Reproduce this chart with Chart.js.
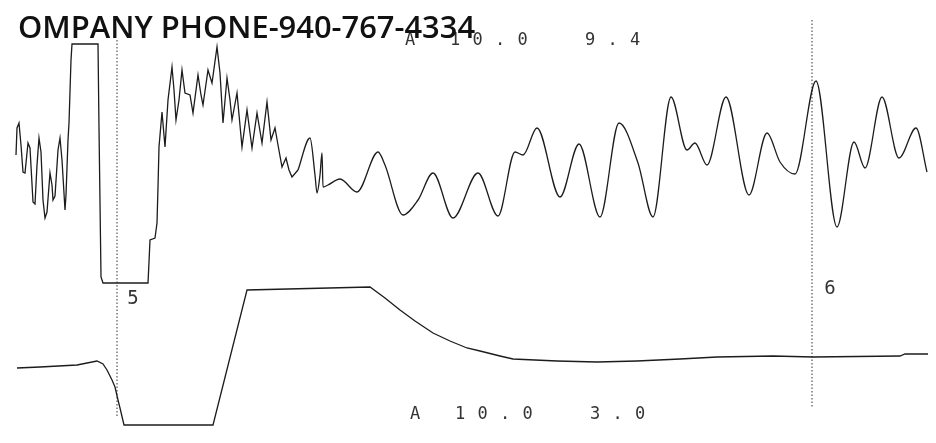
<!DOCTYPE html>
<html>
<head>
<meta charset="utf-8">
<script src="https://cdn.jsdelivr.net/npm/chart.js@4"></script>
<style>
  html, body { margin: 0; padding: 0; background: #fff; }
  canvas { display: block; }
</style>
</head>
<body>
<canvas id="trace" width="936" height="443"></canvas>
<script>
// upper channel, noisy part (time, level) - level read as row from top
var roughTimes = [16, 17, 19, 21, 23, 25, 28, 30, 33, 35, 37, 39, 41, 43, 45, 47, 50, 52, 53, 55, 58, 60, 62, 65, 66, 68, 69, 71, 72, 98, 99, 101, 103, 148, 149, 150, 155, 157, 158, 159, 162, 165, 168, 172, 174, 176, 179, 182, 185, 190, 193, 198, 201, 203, 208, 212, 217, 220, 223, 227, 230, 232, 237, 242, 247, 252, 257, 262, 267, 271, 275, 278, 282, 286, 289, 292, 298];
var roughLevels = [155, 128, 123, 145, 172, 173, 143, 148, 202, 204, 165, 138, 152, 200, 218, 212, 173, 185, 200, 196, 150, 138, 160, 210, 195, 140, 123, 60, 44, 44, 128, 277, 283, 283, 262, 240, 238, 223, 187, 147, 112, 147, 100, 67, 90, 120, 100, 70, 93, 95, 113, 75, 95, 105, 70, 83, 47, 73, 123, 78, 100, 120, 93, 147, 110, 148, 113, 143, 102, 140, 128, 145, 167, 158, 170, 177, 170];

// upper channel, smooth part
var waveTimes = [298, 310, 315, 317, 320, 322, 323, 328, 340, 357, 378, 385, 403, 418, 433, 453, 478, 498, 515, 523, 537, 560, 579, 600, 619, 638, 653, 671, 687, 695, 707, 726, 749, 767, 780, 795, 816, 837, 854, 865, 882, 899, 916, 927];
var waveLevels = [170, 138, 175, 193, 175, 153, 187, 185, 179, 192, 152, 165, 215, 200, 173, 218, 173, 216, 152, 155, 128, 197, 144, 217, 123, 163, 217, 97, 150, 143, 165, 97, 195, 133, 162, 174, 81, 227, 142, 168, 97, 158, 128, 172];

// lower channel
var lowTimes = [17, 40, 77, 97, 103, 107, 112, 115, 118, 120, 124, 213, 247, 370, 385, 400, 415, 433, 450, 467, 480, 500, 513, 557, 597, 637, 680, 717, 773, 813, 900, 905, 928];
var lowLevels = [368, 367, 365, 361, 364, 370, 380, 387, 400, 408, 425, 425, 290, 287, 298, 310, 321, 333, 341, 348, 351, 356, 359, 361, 362, 361, 359, 357, 356, 357, 356, 354, 354];

// event markers
var markerTimes = [117, 812];
var markerTops = [40, 20];
var markerBottoms = [418, 408];
var markerNames = ['5', '6'];

var headerText = 'OMPANY PHONE-940-767-4334';
var topReadout = 'A 10.0  9.4';
var lowReadout = 'A 10.0  3.0';

function pairs(xs, ys) {
    return xs.map((x, i) => ({ x: x, y: ys[i] }));
}

var ink = '#1c1c1c';

var datasets = [
    { data: pairs(roughTimes, roughLevels), borderColor: ink, borderWidth: 1.3, tension: 0 },
    { data: pairs(waveTimes, waveLevels), borderColor: ink, borderWidth: 1.3, cubicInterpolationMode: 'monotone' },
    { data: pairs(lowTimes, lowLevels), borderColor: ink, borderWidth: 1.3, tension: 0 },
];
markerTimes.forEach((t, i) => {
    datasets.push({
        data: [{ x: t, y: markerTops[i] }, { x: t, y: markerBottoms[i] }],
        borderColor: '#555',
        borderWidth: 1.2,
        borderDash: [1.5, 2],
    });
});

var textPlugin = {
    id: 'stripText',
    afterDatasetsDraw(chart) {
        var ctx = chart.ctx;
        var sx = chart.scales.x, sy = chart.scales.y;
        ctx.save();

        // readouts, dot-matrix style
        ctx.fillStyle = '#333';
        ctx.font = '17px "DejaVu Sans Mono"';
        ctx.textAlign = 'center';
        ctx.textBaseline = 'middle';
        function readout(str, x0, row) {
            for (var i = 0; i < str.length; i++) {
                ctx.fillText(str[i], sx.getPixelForValue(x0 + i * 22.5), sy.getPixelForValue(row));
            }
        }
        readout(topReadout, 410, 41);
        readout(lowReadout, 415, 415);

        ctx.font = '19px "DejaVu Sans Mono"';
        ctx.fillText(markerNames[0], sx.getPixelForValue(133), sy.getPixelForValue(299));
        ctx.fillText(markerNames[1], sx.getPixelForValue(830), sy.getPixelForValue(289));

        // header stamp
        ctx.fillStyle = '#111';
        ctx.textAlign = 'left';
        ctx.textBaseline = 'alphabetic';
        ctx.font = '600 30px "Open Sans"';
        var w = ctx.measureText(headerText).width;
        var size = 30 * (sx.getPixelForValue(475) - sx.getPixelForValue(18)) / w;
        ctx.font = '600 ' + size.toFixed(1) + 'px "Open Sans"';
        ctx.fillText(headerText, sx.getPixelForValue(18), sy.getPixelForValue(38));
        ctx.restore();
    }
};

new Chart(document.getElementById('trace'), {
    type: 'line',
    data: { datasets: datasets },
    options: {
        responsive: false,
        animation: false,
        layout: { padding: 0 },
        elements: { point: { radius: 0 } },
        plugins: { legend: { display: false }, tooltip: { enabled: false } },
        scales: {
            x: { type: 'linear', min: 0, max: 936, display: false },
            y: { type: 'linear', min: 0, max: 443, reverse: true, display: false },
        },
    },
    plugins: [textPlugin],
});
</script>
</body>
</html>
